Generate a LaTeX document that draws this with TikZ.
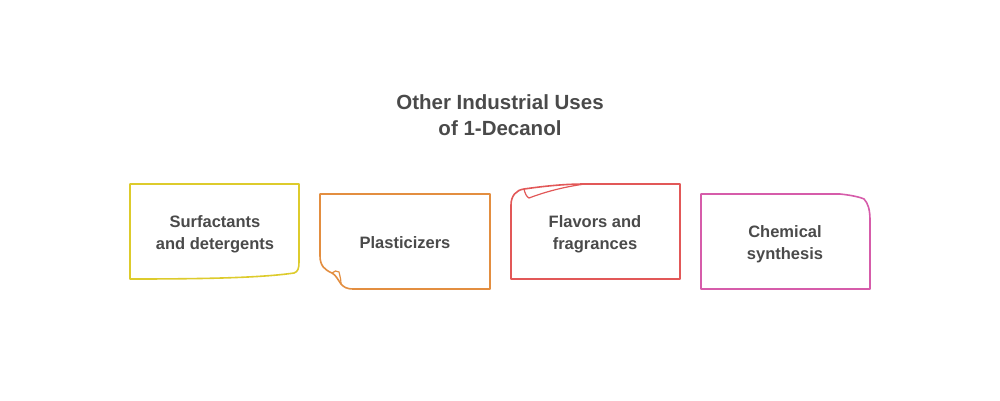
\documentclass[tikz,border=0pt]{standalone}
\usepackage{fontspec}
\setmainfont{Liberation Sans}
\usetikzlibrary{positioning,calc}
\definecolor{txtgray}{RGB}{74,74,74}
\definecolor{cyellow}{RGB}{221,203,44}
\definecolor{corange}{RGB}{227,142,64}
\definecolor{cred}{RGB}{226,88,88}
\definecolor{cpink}{RGB}{214,92,170}

\begin{document}
\begin{tikzpicture}[x=1pt,y=-1pt,
    note/.style={line width=1.6pt,line join=round,fill=white},
    label/.style={text=txtgray,font=\bfseries\fontsize{16.5}{22}\selectfont,align=center},
    title/.style={text=txtgray,font=\bfseries\fontsize{20.5}{26}\selectfont,align=center}]
        \useasboundingbox (0,0) rectangle (1000,400);
        % Title
        \node[title] (T) at (500,115) {Other Industrial Uses\\of 1-Decanol};
        % Surfactants
        \draw[note,draw=cyellow] (130,184) -- (299,184) -- (299,262)
            .. controls (299,268) and (298,272) .. (294,273)
            .. controls (260,278) and (200,279) .. (130,279) -- cycle;
        \node[label] (S) at (215,234) {Surfactants\\and detergents};
        % Plasticizers
        \draw[note,draw=corange] (320,194) -- (490,194) -- (490,289) -- (354,289)
            .. controls (346,289) and (344,287) .. (341,284)
            .. controls (338,280) and (336,275) .. (332,273)
            .. controls (325,270) and (320,266) .. (320,256) -- cycle;
        \draw[corange,line width=1.2pt] (332,273) .. controls (334,271) and (337,270) .. (339,272)
            .. controls (340,276) and (341,280) .. (341,284);
        \node[label] (P) at (405,243) {Plasticizers};
        % Flavors
        \draw[note,draw=cred] (680,184) -- (680,279) -- (511,279) -- (511,205)
            .. controls (511,196) and (516,190) .. (524,189)
            .. controls (545,186) and (565,184) .. (585,184) -- cycle;
        \draw[cred,line width=1.2pt] (524,189) .. controls (525,194) and (527,197) .. (529,198)
            .. controls (550,190) and (570,186) .. (585,184);
        \node[label] (F) at (595,234) {Flavors and\\fragrances};
        % Chemical synthesis
        \draw[note,draw=cpink] (701,194) -- (840,194)
            .. controls (850,195) and (860,197) .. (864,199)
            .. controls (868,203) and (870,210) .. (870,220) -- (870,289) -- (701,289) -- cycle;
        \node[label] (C) at (785,244) {Chemical\\synthesis};
    \end{tikzpicture}
\end{document}
